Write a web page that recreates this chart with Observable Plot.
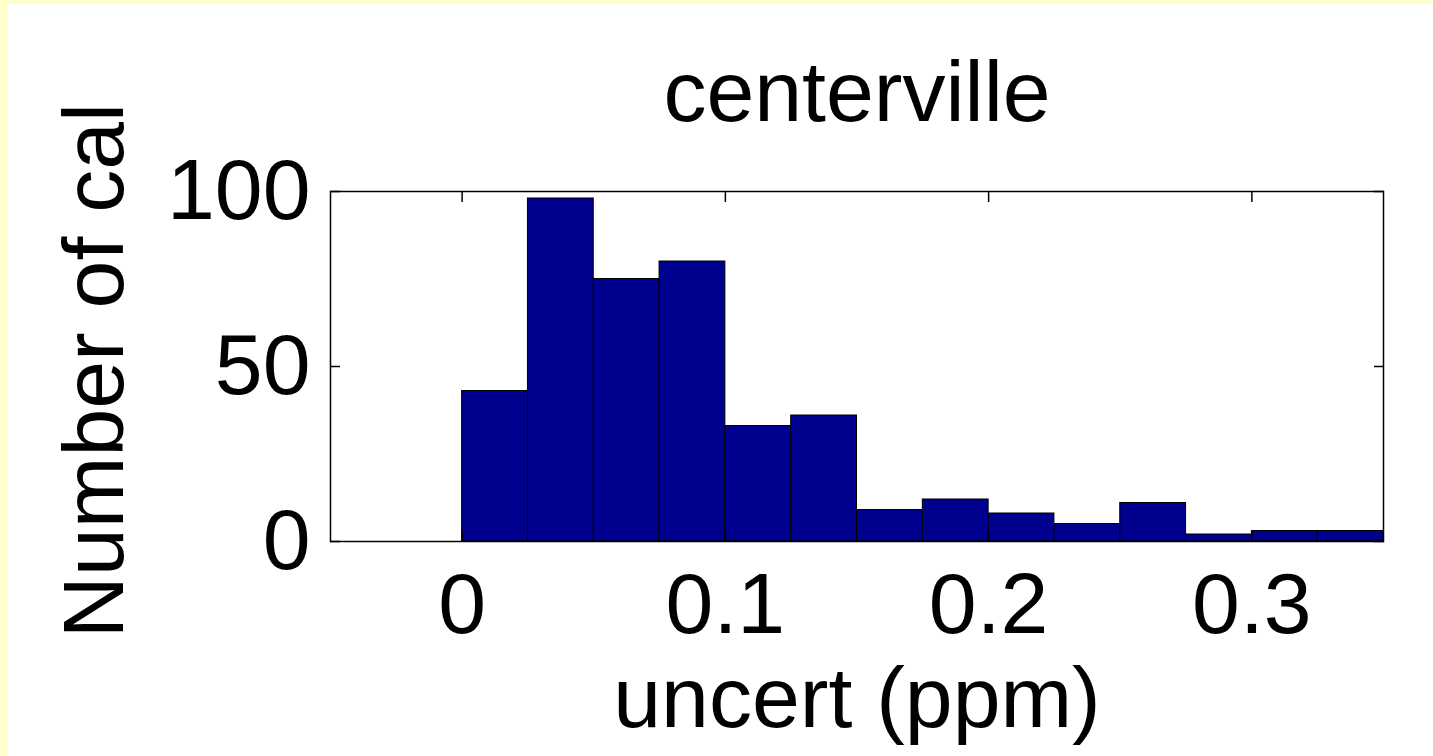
<!DOCTYPE html>
<html>
<head>
<meta charset="utf-8">
<script src="https://cdn.jsdelivr.net/npm/d3@7"></script>
<script src="https://cdn.jsdelivr.net/npm/@observablehq/plot@0.6"></script>
<style>
  html, body { margin: 0; padding: 0; background: #ffffcc; width: 1433px; height: 756px; overflow: hidden; }
  #chart { position: absolute; left: 8px; top: 4px; width: 1425px; height: 752px; background: #ffffff; }
</style>
</head>
<body>
<div id="chart"></div>
<script>
// ---- data ----
const title = "centerville";
const xLabel = "uncert (ppm)";
const yLabel = "Number of cal";
const binLo = [0, 0.025, 0.05, 0.075, 0.1, 0.125, 0.15, 0.175, 0.2, 0.225, 0.25, 0.275, 0.3, 0.325];
const binHi = [0.025, 0.05, 0.075, 0.1, 0.125, 0.15, 0.175, 0.2, 0.225, 0.25, 0.275, 0.3, 0.325, 0.35];
const counts = [43, 98, 75, 80, 33, 36, 9, 12, 8, 5, 11, 2, 3, 3];
const xTicks = [0, 0.1, 0.2, 0.3];
const xTickLabels = ["0", "0.1", "0.2", "0.3"];
const yTicks = [0, 50, 100];
const yTickLabels = ["0", "50", "100"];
const xDomain = [-0.05, 0.35];
const yDomain = [0, 100];

const bins = counts.map((n, i) => ({x1: binLo[i], x2: binHi[i], n}));
const fs = 86;
const noText = () => "";

const chart = Plot.plot({
  width: 1425,
  height: 752,
  marginLeft: 322,
  marginRight: 50,
  marginTop: 187,
  marginBottom: 215,
  style: {
    fontFamily: '"Liberation Sans", Arial, Helvetica, sans-serif',
    background: "#ffffff",
    color: "#000000",
    overflow: "visible"
  },
  x: {domain: xDomain},
  y: {domain: yDomain},
  marks: [
    Plot.rectY(bins, {x1: "x1", x2: "x2", y: "n", fill: "#00008f", stroke: "#000000", strokeWidth: 1}),
    Plot.frame({stroke: "#000000", strokeWidth: 1.5}),
    // tick labels
    Plot.axisX(xTicks, {anchor: "bottom", tickSize: 0, tickPadding: 30, fontSize: fs,
      tickFormat: d => xTickLabels[xTicks.indexOf(d)], label: null}),
    Plot.axisY(yTicks, {anchor: "left", tickSize: 0, tickPadding: 20, fontSize: fs,
      tickFormat: d => yTickLabels[yTicks.indexOf(d)], label: null}),
    // inward ticks on all four sides
    Plot.axisX(xTicks, {anchor: "bottom", tickSize: -10, tickPadding: 0, tickFormat: noText, label: null, strokeWidth: 1.5}),
    Plot.axisX(xTicks, {anchor: "top", tickSize: -10, tickPadding: 0, tickFormat: noText, label: null, strokeWidth: 1.5}),
    Plot.axisY(yTicks, {anchor: "left", tickSize: -10, tickPadding: 0, tickFormat: noText, label: null, strokeWidth: 1.5}),
    Plot.axisY(yTicks, {anchor: "right", tickSize: -10, tickPadding: 0, tickFormat: noText, label: null, strokeWidth: 1.5}),
    // title and axis labels
    Plot.text([title], {frameAnchor: "top", lineAnchor: "middle", textAnchor: "middle", dy: -98, fontSize: fs, fill: "#000000"}),
    Plot.text([xLabel], {frameAnchor: "bottom", lineAnchor: "middle", textAnchor: "middle", dy: 158, fontSize: fs, fill: "#000000"}),
    Plot.text([yLabel], {frameAnchor: "left", lineAnchor: "middle", textAnchor: "middle", dx: -235, dy: 4, rotate: -90, fontSize: fs, fill: "#000000"})
  ]
});
document.getElementById("chart").appendChild(chart);
</script>
</body>
</html>
